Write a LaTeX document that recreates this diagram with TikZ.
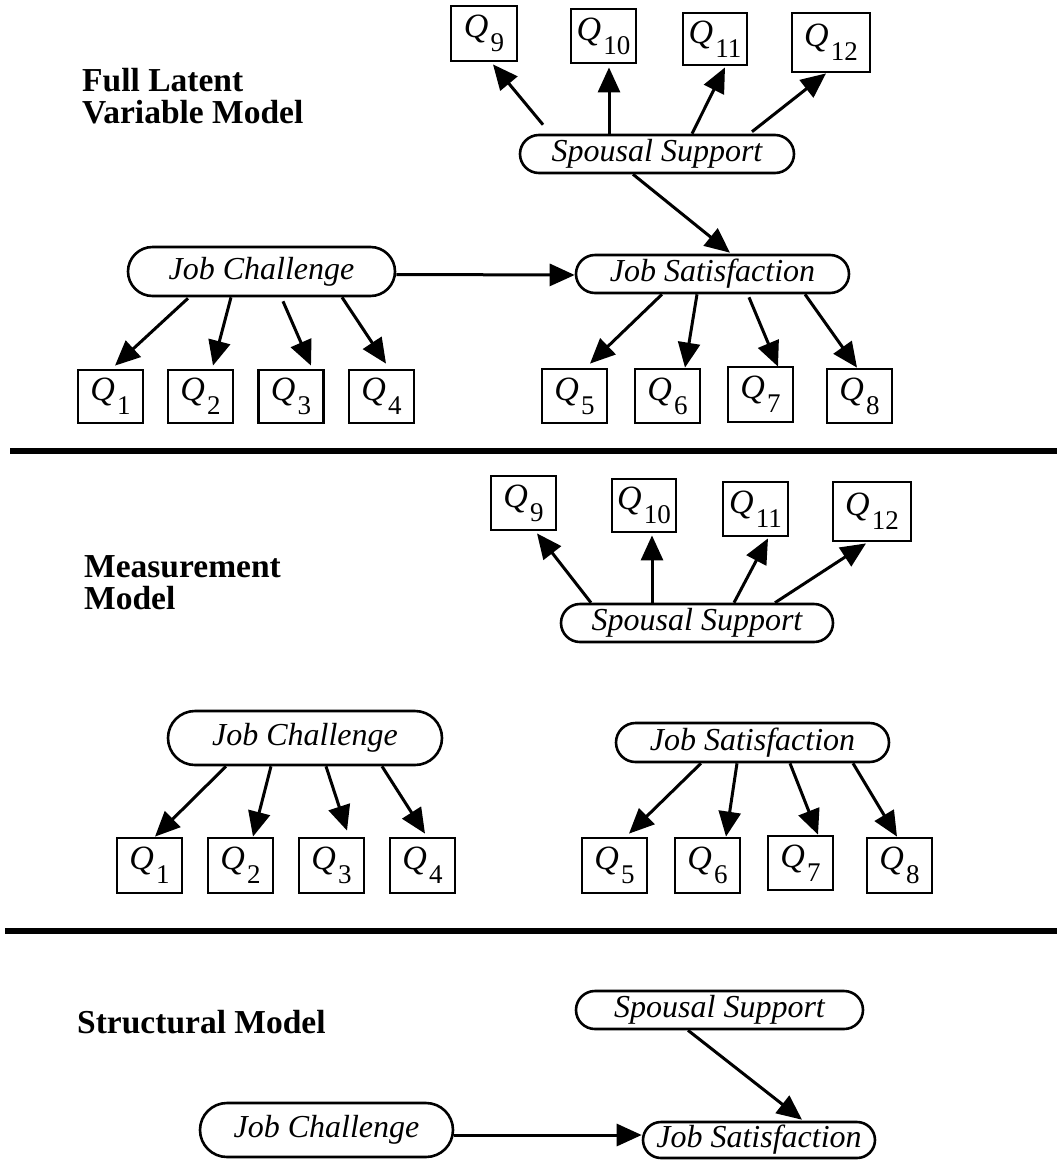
\documentclass[tikz,border=0pt]{standalone}
\usepackage{fontspec}
\setmainfont{Liberation Serif}
\usetikzlibrary{arrows.meta,shapes.misc}
\newcommand{\ql}[1]{\textit{Q}\kern2pt\raisebox{-14pt}{\fontsize{27}{27}\selectfont #1}}
\begin{document}
\begin{tikzpicture}[x=1pt,y=-1pt,
  lat/.style={draw, rounded rectangle, line width=2.6pt, inner sep=0pt, font=\fontsize{32}{32}\selectfont\itshape},
  obs/.style={draw, rectangle, line width=2.8pt, inner sep=0pt, font=\fontsize{34}{34}\selectfont},
  arr/.style={line width=3pt, -{Triangle[length=25pt,width=22pt]}},
  title/.style={anchor=base west, inner sep=0pt, font=\fontsize{33.5}{33.5}\selectfont\bfseries},
  rulebar/.style={line width=6pt}]
\useasboundingbox[fill=white] (0,0) rectangle (1057,1160);

% ---------- Panel 1 ----------
\node[title] (t1a) at (82,91) {Full Latent};
\node[title] (t1b) at (82,123) {Variable Model};

\node[lat, minimum width=274pt, minimum height=38pt] (ss1) at (657,154) {Spousal Support};
\node[obs, minimum width=66pt, minimum height=55pt] (q9a) at (484,33.5) {\ql{9}};
\node[obs, minimum width=65pt, minimum height=54pt] (q10a) at (603.5,36) {\ql{10}};
\node[obs, minimum width=64pt, minimum height=52pt] (q11a) at (715,39) {\ql{11}};
\node[obs, minimum width=78pt, minimum height=59pt] (q12a) at (831,42.5) {\ql{12}};
\node[lat, minimum width=273pt, minimum height=38pt] (js1) at (712.5,274) {Job Satisfaction};
\node[lat, minimum width=267pt, minimum height=49pt] (jc1) at (261.5,271.5) {Job Challenge};

\node[obs, minimum width=65pt, minimum height=53pt] (q1a) at (110.5,396.5) {\ql{1}};
\node[obs, minimum width=65pt, minimum height=53pt] (q2a) at (200.5,396.5) {\ql{2}};
\node[obs, minimum width=65pt, minimum height=53pt] (q3a) at (291,396.5) {\ql{3}};
\node[obs, minimum width=65pt, minimum height=53pt] (q4a) at (381.5,396.5) {\ql{4}};
\node[obs, minimum width=65pt, minimum height=54pt] (q5a) at (574.5,396) {\ql{5}};
\node[obs, minimum width=65pt, minimum height=54pt] (q6a) at (667.5,396) {\ql{6}};
\node[obs, minimum width=65pt, minimum height=55pt] (q7a) at (760.5,394.5) {\ql{7}};
\node[obs, minimum width=65pt, minimum height=54pt] (q8a) at (859.5,396) {\ql{8}};

\draw[arr] ([xshift=-114pt,yshift=9pt]ss1.north) -- ([xshift=9pt,yshift=-2pt]q9a.south);
\draw[arr] ([xshift=-48pt]ss1.north) -- ([xshift=5.5pt,yshift=-3pt]q10a.south);
\draw[arr] ([xshift=35pt]ss1.north) -- ([xshift=10pt,yshift=-1pt]q11a.south);
\draw[arr] ([xshift=95pt,yshift=2pt]ss1.north) -- ([xshift=-5pt]q12a.south);
\draw[arr] ([xshift=-24pt]ss1.south) -- ([xshift=17.5pt,yshift=1pt]js1.north);
\draw[arr] ([yshift=-3pt]jc1.east) -- ([yshift=-1pt]js1.west);

\draw[arr] ([xshift=-73.5pt,yshift=-1pt]jc1.south) -- ([xshift=4.5pt,yshift=3pt]q1a.north);
\draw[arr] ([xshift=-30.5pt]jc1.south) -- ([xshift=12.5pt,yshift=3pt]q2a.north);
\draw[arr] ([xshift=21.5pt,yshift=-4pt]jc1.south) -- ([xshift=20pt,yshift=3pt]q3a.north);
\draw[arr] ([xshift=80.5pt]jc1.south) -- ([xshift=4.5pt,yshift=5pt]q4a.north);

\draw[arr] ([xshift=-50.5pt]js1.south) -- ([xshift=15.5pt,yshift=4pt]q5a.north);
\draw[arr] ([xshift=-15.5pt]js1.south) -- ([xshift=17.5pt]q6a.north);
\draw[arr] ([xshift=36.5pt,yshift=-3pt]js1.south) -- ([xshift=17.5pt,yshift=-1pt]q7a.north);
\draw[arr] ([xshift=92.5pt]js1.south) -- ([xshift=-2.5pt]q8a.north);

\coordinate (r1a) at (10,451);
\coordinate (r1b) at (1057,451);
\draw[rulebar] (r1a) -- (r1b);

% ---------- Panel 2 ----------
\node[title] (t2a) at (84,577) {Measurement};
\node[title] (t2b) at (84,609) {Model};

\node[lat, minimum width=272pt, minimum height=38pt] (ss2) at (697,623) {Spousal Support};
\node[obs, minimum width=65pt, minimum height=54pt] (q9b) at (523.5,503) {\ql{9}};
\node[obs, minimum width=64pt, minimum height=53pt] (q10b) at (644,505.5) {\ql{10}};
\node[obs, minimum width=65pt, minimum height=54pt] (q11b) at (755.5,509) {\ql{11}};
\node[obs, minimum width=78pt, minimum height=59pt] (q12b) at (872,511.5) {\ql{12}};

\draw[arr] ([xshift=-106pt]ss2.north) -- ([xshift=13.5pt,yshift=-2pt]q9b.south);
\draw[arr] ([xshift=-45pt]ss2.north) -- ([xshift=8pt,yshift=-2pt]q10b.south);
\draw[arr] ([xshift=37pt]ss2.north) -- ([xshift=12.5pt,yshift=-1pt]q11b.south);
\draw[arr] ([xshift=78pt]ss2.north) -- ([xshift=-6pt,yshift=-1pt]q12b.south);

\node[lat, minimum width=274pt, minimum height=54pt] (jc2) at (305,738) {Job Challenge};
\node[obs, minimum width=65pt, minimum height=55pt] (q1b) at (149.5,865.5) {\ql{1}};
\node[obs, minimum width=65pt, minimum height=55pt] (q2b) at (240.5,865.5) {\ql{2}};
\node[obs, minimum width=65pt, minimum height=55pt] (q3b) at (331.5,865.5) {\ql{3}};
\node[obs, minimum width=65pt, minimum height=55pt] (q4b) at (422.5,865.5) {\ql{4}};

\draw[arr] ([xshift=-79pt]jc2.south) -- ([xshift=5.5pt]q1b.north);
\draw[arr] ([xshift=-34pt]jc2.south) -- ([xshift=12.5pt]q2b.north);
\draw[arr] ([xshift=21pt]jc2.south) -- ([xshift=15.5pt,yshift=6pt]q3b.north);
\draw[arr] ([xshift=77pt]jc2.south) -- ([xshift=2.5pt,yshift=3pt]q4b.north);

\node[lat, minimum width=273pt, minimum height=39pt] (js2) at (752.5,742.5) {Job Satisfaction};
\node[obs, minimum width=65pt, minimum height=55pt] (q5b) at (614.5,865.5) {\ql{5}};
\node[obs, minimum width=65pt, minimum height=55pt] (q6b) at (707.5,865.5) {\ql{6}};
\node[obs, minimum width=65pt, minimum height=54pt] (q7b) at (800.5,863) {\ql{7}};
\node[obs, minimum width=65pt, minimum height=55pt] (q8b) at (899.5,865.5) {\ql{8}};

\draw[arr] ([xshift=-51.5pt]js2.south) -- ([xshift=14.5pt,yshift=3pt]q5b.north);
\draw[arr] ([xshift=-15.5pt]js2.south) -- ([xshift=18.5pt]q6b.north);
\draw[arr] ([xshift=37.5pt]js2.south) -- ([xshift=17.5pt]q7b.north);
\draw[arr] ([xshift=100.5pt]js2.south) -- ([xshift=-2.5pt]q8b.north);

\coordinate (r2a) at (5,931);
\coordinate (r2b) at (1057,931);
\draw[rulebar] (r2a) -- (r2b);

% ---------- Panel 3 ----------
\node[title] (t3) at (77,1033) {Structural Model};

\node[lat, minimum width=287pt, minimum height=38pt] (ss3) at (719.5,1010) {Spousal Support};
\node[lat, minimum width=232pt, minimum height=36pt] (js3) at (759,1140) {Job Satisfaction};
\node[lat, minimum width=253pt, minimum height=54pt] (jc3) at (326.5,1130) {Job Challenge};

\draw[arr] ([xshift=-31.5pt]ss3.south) -- ([xshift=43pt,yshift=1pt]js3.north);
\draw[arr] ([yshift=-5pt]jc3.east) -- ([yshift=5pt]js3.west);
\end{tikzpicture}
\end{document}
